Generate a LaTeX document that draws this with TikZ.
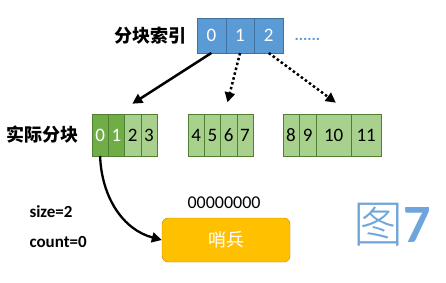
\documentclass[tikz,border=0pt]{standalone}
\usepackage{fontspec}
\setmainfont{Carlito}
\newfontfamily\cjk{Noto Sans CJK SC}
\newfontfamily\cjklight{Noto Sans CJK SC Light}
\usetikzlibrary{positioning,arrows.meta}
\definecolor{cIdx}{HTML}{5B9BD5}
\definecolor{cIdxLine}{HTML}{41719C}
\definecolor{cDark}{HTML}{70AD47}
\definecolor{cLight}{HTML}{A9D18E}
\definecolor{cGreenLine}{HTML}{507E32}
\definecolor{cGold}{HTML}{FFC000}
\definecolor{cGoldLine}{HTML}{BC8C00}
\definecolor{cBig}{HTML}{6FA5DA}
\tikzset{
  idx-cell/.style={draw=cIdxLine,fill=cIdx,text=white,minimum width=28.7pt,
    minimum height=35pt,inner sep=0pt,outer sep=0pt,font=\fontsize{19}{19}\selectfont},
  blk-cell/.style={draw=cGreenLine,fill=cLight,minimum width=16.25pt,
    minimum height=42pt,inner sep=0pt,outer sep=0pt,font=\fontsize{19}{19}\selectfont},
  blk-used/.style={fill=cDark,text=white},
  side-label/.style={font=\cjk\bfseries\fontsize{18}{18}\selectfont},
  var-label/.style={anchor=west,font=\bfseries\fontsize{17}{17}\selectfont},
  sentinel/.style={draw=cGoldLine,fill=cGold,text=white,rounded corners=6pt,
    minimum width=128pt,minimum height=44pt,font=\cjk\fontsize{18}{18}\selectfont},
  arrow/.style={-{Triangle[length=10pt,width=10pt]},line width=2.5pt},
  arrow-dots/.style={arrow,dash pattern=on 2.5pt off 2.5pt},
}
\begin{document}
\begin{tikzpicture}[x=1pt,y=-1pt]
  \useasboundingbox (0,0) rectangle (446,282);
  % 分块索引
  \node[idx-cell] (idx0) at (211.35,35.5) {0};
  \node[idx-cell,right=0pt of idx0] (idx1) {1};
  \node[idx-cell,right=0pt of idx1] (idx2) {2};
  \node[side-label,left=7pt of idx0] (idxlbl) {分块索引};
  \node[anchor=base west,text=cIdx,font=\bfseries\fontsize{16}{16}\selectfont]
    (more) at (291,40) {......};
  % 实际分块
  \node[blk-cell,blk-used] (a0) at (100.1,135) {0};
  \node[blk-cell,blk-used,right=0pt of a0] (a1) {1};
  \node[blk-cell,right=0pt of a1] (a2) {2};
  \node[blk-cell,right=0pt of a2] (a3) {3};
  \node[side-label,left=10pt of a0] (blklbl) {实际分块};
  \node[blk-cell] (b0) at (196.1,135) {4};
  \node[blk-cell,right=0pt of b0] (b1) {5};
  \node[blk-cell,right=0pt of b1] (b2) {6};
  \node[blk-cell,right=0pt of b2] (b3) {7};
  \node[blk-cell] (c0) at (291,135) {8};
  \node[blk-cell,minimum width=17pt,right=0pt of c0] (c1) {9};
  \node[blk-cell,minimum width=35pt,right=0pt of c1] (c2) {10};
  \node[blk-cell,minimum width=30pt,right=0pt of c2] (c3) {11};
  % 哨兵
  \node[sentinel] (guard) at (226,240) {哨兵};
  \node[font=\fontsize{18}{18}\selectfont] (bits) at (224,203) {00000000};
  \node[var-label] (size) at (26,212) {size=2};
  \node[var-label] (count) at (26,242) {count=0};
  \node[anchor=west,text=cBig,inner sep=0pt] (fig) at (353,225)
    {{\cjklight\fontsize{50}{50}\selectfont 图}{\bfseries\fontsize{54}{54}\selectfont 7}};
  % 箭头
  \draw[arrow,shorten >=19pt] (idx0.south) -- (a1.north);
  \draw[arrow-dots,shorten >=12pt] (idx1.south) -- ([xshift=4pt]b2.north west);
  \draw[arrow-dots,shorten >=19pt] (idx2.south) -- (c2.north east);
  \draw[arrow,line width=2.3pt] (a0.south) to[out=-88,in=165] (guard.west);
\end{tikzpicture}
\end{document}
